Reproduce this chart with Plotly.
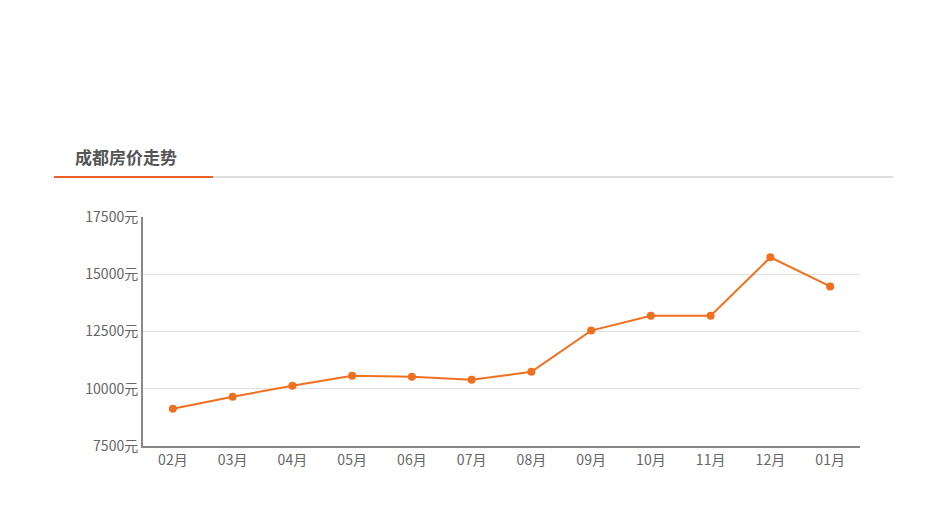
import plotly.graph_objects as go

months = ["02月","03月","04月","05月","06月","07月","08月","09月","10月","11月","12月","01月"]
prices = [9130, 9650, 10130, 10570, 10520, 10390, 10740, 12540, 13190, 13190, 15740, 14470]
ytick_vals = [7500, 10000, 12500, 15000, 17500]
ytick_text = [f"{v}元" for v in ytick_vals]

OFF = 8  # default page body margin
W, H = 951 - 2 * OFF, 507 - 2 * OFF
L, T = 143 - OFF, 217 - OFF
R = W - (860 - OFF)
B = H - (446 - OFF)
pw, ph = W - L - R, H - T - B
def px(x): return (x - OFF - L) / pw
def py(y): return (H - B - (y - OFF)) / ph

fig = go.Figure(go.Scatter(
    x=months, y=prices, mode="lines+markers",
    line=dict(color="#f07020", width=2),
    marker=dict(color="#f07020", size=8),
    hoverinfo="x+y"))

font = "Noto Sans CJK SC"
fig.update_layout(
    width=W, height=H, margin=dict(l=L, r=R, t=T, b=B),
    paper_bgcolor="white", plot_bgcolor="white", showlegend=False,
    font=dict(family=font, color="#666", size=14),
    xaxis=dict(type="category", range=[-0.5, 11.5], showgrid=False,
               showline=True, linecolor="#888", linewidth=2, ticks="",
               tickfont=dict(size=14, color="#666")),
    yaxis=dict(range=[7500, 17500], tickvals=ytick_vals, ticktext=ytick_text,
               showgrid=True, gridcolor="#e2e2e2", gridwidth=1, zeroline=False,
               showline=True, linecolor="#888", linewidth=2, ticks="",
               tickfont=dict(size=14, color="#666")),
    annotations=[dict(text="<b>成都房价走势</b>", x=px(73), y=py(156), xref="paper", yref="paper",
                      xanchor="left", yanchor="middle", showarrow=False,
                      font=dict(size=17, color="#555", family=font))],
    shapes=[
        dict(type="line", xref="paper", yref="paper", x0=px(213), x1=px(893), y0=py(177), y1=py(177),
             line=dict(color="#dddddd", width=2)),
        dict(type="line", xref="paper", yref="paper", x0=px(54), x1=px(213), y0=py(177), y1=py(177),
             line=dict(color="#e8602c", width=2)),
        dict(type="line", xref="paper", yref="paper", x0=px(54), x1=px(893), y0=py(500), y1=py(500),
             line=dict(color="#e8e8e8", width=1)),
    ],
)
fig.write_html("out.html")
